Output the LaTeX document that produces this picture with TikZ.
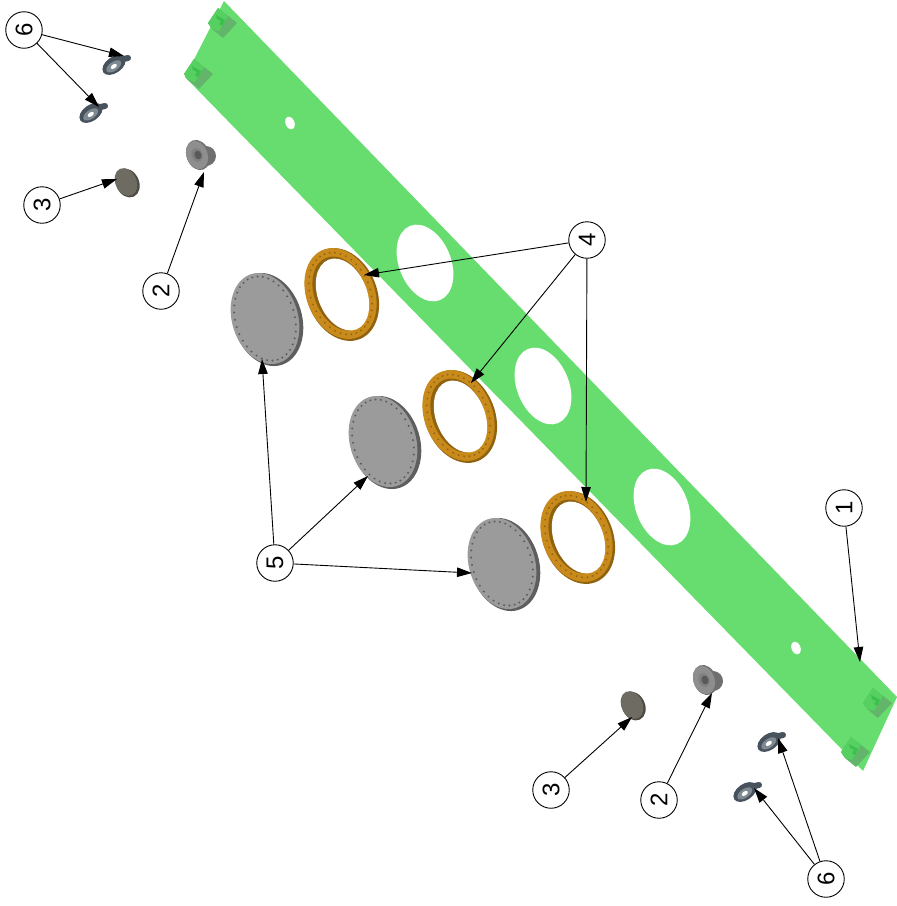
\documentclass[tikz,border=0pt]{standalone}
\usepackage{fontspec}
\setmainfont{Liberation Sans}
\usetikzlibrary{arrows.meta}
\definecolor{plategreen}{HTML}{66DD6E}
\definecolor{tabgreen}{HTML}{55D061}
\definecolor{tabside}{HTML}{62B56A}
\definecolor{tabfold}{HTML}{3CC04C}
\definecolor{ringorange}{HTML}{C98A1C}
\definecolor{ringdark}{HTML}{8F6210}
\definecolor{discgray}{HTML}{9B9B9B}
\definecolor{discdark}{HTML}{5E5E5E}
\definecolor{dotgray}{HTML}{5A5A5A}
\definecolor{btn}{HTML}{6E6C62}
\definecolor{btndark}{HTML}{4C4A42}
\definecolor{clipdark}{HTML}{47525C}
\definecolor{clipmid}{HTML}{7F8992}
\definecolor{bushface}{HTML}{8E8E8E}
\definecolor{bushrim}{HTML}{6F6F6F}
\tikzset{
  callout/.style={circle,draw=black,line width=0.9pt,fill=white,minimum size=36.5pt,inner sep=0pt,
    font=\fontsize{24}{24}\selectfont,rotate=90},
  leader/.style={draw=black,line width=0.9pt,-{Triangle[length=15pt,width=9.5pt]}},
}
\newcommand{\partdisc}[2]{%
  \fill[discdark,rotate around={-73:(#1+1.5,#2+0.5)}] (#1+1.5,#2+0.5) ellipse [x radius=47.5,y radius=34.5];
  \fill[discgray,rotate around={-73:(#1-1,#2-0.5)}] (#1-1,#2-0.5) ellipse [x radius=46.5,y radius=33];
  \foreach \t in {0,10,...,350}{
    \fill[dotgray,rotate around={-73:(#1-1,#2-0.5)}] ({#1-1+43*cos(\t)},{#2-0.5+29.5*sin(\t)}) circle [radius=1.1];
  }
}
\newcommand{\partring}[2]{%
  \fill[ringdark,rotate around={-68:(#1+1,#2+0.5)}] (#1+1,#2+0.5) ellipse [x radius=48,y radius=35];
  \fill[ringorange,rotate around={-68:(#1-0.5,#2-0.5)}] (#1-0.5,#2-0.5) ellipse [x radius=47,y radius=34];
  \foreach \t in {0,10,...,350}{
    \fill[ringdark,rotate around={-68:(#1-0.5,#2-0.5)}] ({#1-0.5+42.5*cos(\t)},{#2-0.5+29.5*sin(\t)}) circle [radius=1];
  }
  \fill[ringdark,rotate around={-68:(#1-0.5,#2-0.5)}] (#1-0.5,#2-0.5) ellipse [x radius=38.5,y radius=26];
  \fill[white,rotate around={-68:(#1+1.5,#2+0.5)}] (#1+1.5,#2+0.5) ellipse [x radius=37.5,y radius=24.5];
}
\newcommand{\partbush}[2]{%
  \fill[bushrim,rotate around={-70:(#1+9,#2+1)}] (#1+9,#2+1) ellipse [x radius=10,y radius=10];
  \fill[bushrim,rotate around={-70:(#1+1,#2)}] (#1+1,#2) ellipse [x radius=15.5,y radius=11.5];
  \fill[bushface,rotate around={-70:(#1,#2)}] (#1,#2) ellipse [x radius=14.5,y radius=10.5];
  \fill[gray,rotate around={-70:(#1,#2)}] (#1,#2) ellipse [x radius=7,y radius=5.5];
  \fill[gray!70!black,rotate around={-70:(#1+1,#2)}] (#1+1,#2) ellipse [x radius=4.5,y radius=3.5];
}
\newcommand{\partbutton}[2]{%
  \fill[btndark,rotate around={-65:(#1+1.5,#2+1)}] (#1+1.5,#2+1) ellipse [x radius=15,y radius=11.5];
  \fill[btn,rotate around={-65:(#1,#2)}] (#1,#2) ellipse [x radius=14.5,y radius=10.5];
}
\newcommand{\partclip}[2]{%
  \draw[clipdark,line width=6pt,line cap=round] (#1+5,#2-5) -- (#1+14,#2-7);
  \fill[clipdark,rotate around={35:(#1,#2)}] (#1,#2) ellipse [x radius=13,y radius=8];
  \fill[clipmid,rotate around={35:(#1,#2)}] (#1-1,#2+1) ellipse [x radius=8.5,y radius=4.5];
  \fill[white,rotate around={35:(#1,#2)}] (#1-1,#2+1) ellipse [x radius=3.5,y radius=2];
}
\newcommand{\parttab}[2]{%
  \fill[tabside] (#1-14,#2) -- (#1-4,#2-15) -- (#1+15,#2) -- (#1+1,#2+15) -- (#1-10,#2+6) -- cycle;
  \fill[tabgreen] (#1-14,#2) -- (#1-4,#2-15) -- (#1+6,#2-7) -- (#1-3,#2+8) -- (#1-10,#2+6) -- cycle;
  \fill[tabfold] (#1-6,#2-8) -- (#1+3,#2-3) -- (#1,#2+3) -- (#1-3,#2+1) -- (#1-1,#2-2) -- (#1-5,#2-4) -- cycle;
}
\begin{document}
\begin{tikzpicture}[x=1pt,y=-1pt]
\useasboundingbox (0,0) rectangle (897,906);
% plate
\fill[plategreen] (224,1) -- (897,697) -- (863,771) -- (185,77) -- cycle;
\parttab{222}{23}
\parttab{198}{74}
\parttab{877}{703}
\parttab{855}{752}
\fill[white,rotate around={-68:(425,263)}] (425,263) ellipse [x radius=40,y radius=26];
\fill[white,rotate around={-68:(543,386)}] (543,386) ellipse [x radius=40,y radius=26];
\fill[white,rotate around={-68:(662,507)}] (662,507) ellipse [x radius=40,y radius=26];
\fill[white,rotate around={-68:(290,123)}] (290,123) ellipse [x radius=6.5,y radius=4.5];
\fill[white,rotate around={-68:(796,648)}] (796,648) ellipse [x radius=6.5,y radius=4.5];
% discs and rings
\partdisc{266}{319}
\partdisc{384}{442}
\partdisc{503}{564}
\partring{341}{294}
\partring{459}{416}
\partring{577}{537}
% small parts
\partbush{197}{155}
\partbush{704}{680}
\partbutton{126}{182}
\partbutton{632}{705}
\partclip{114}{65}
\partclip{91}{113}
\partclip{769}{742}
\partclip{745}{792}
% callouts
\node[callout] (n1) at (844,508) {1};
\node[callout] (n2a) at (161,291) {2};
\node[callout] (n2b) at (659,800) {2};
\node[callout] (n3a) at (42,205) {3};
\node[callout] (n3b) at (551,790) {3};
\node[callout] (n4) at (587,240) {4};
\node[callout] (n5) at (275,563) {5};
\node[callout] (n6a) at (24,30) {6};
\node[callout] (n6b) at (826,879) {6};
% targets
\coordinate (t1) at (860,662);
\coordinate (t2a) at (204,172);
\coordinate (t2b) at (712,693);
\coordinate (t3a) at (117,179);
\coordinate (t3b) at (632,717);
\coordinate (t4a) at (364,275);
\coordinate (t4b) at (471,383);
\coordinate (t4c) at (586,502);
\coordinate (t5a) at (262,359);
\coordinate (t5b) at (368,476);
\coordinate (t5c) at (472,573);
\coordinate (t6a) at (124,56);
\coordinate (t6b) at (99,107);
\coordinate (t6c) at (778,738);
\coordinate (t6d) at (754,788);
\draw[leader] (n1) -- (t1);
\draw[leader] (n2a) -- (t2a);
\draw[leader] (n2b) -- (t2b);
\draw[leader] (n3a) -- (t3a);
\draw[leader] (n3b) -- (t3b);
\draw[leader] (n4) -- (t4a);
\draw[leader] (n4) -- (t4b);
\draw[leader] (n4) -- (t4c);
\draw[leader] (n5) -- (t5a);
\draw[leader] (n5) -- (t5b);
\draw[leader] (n5) -- (t5c);
\draw[leader] (n6a) -- (t6a);
\draw[leader] (n6a) -- (t6b);
\draw[leader] (n6b) -- (t6c);
\draw[leader] (n6b) -- (t6d);
\end{tikzpicture}
\end{document}
